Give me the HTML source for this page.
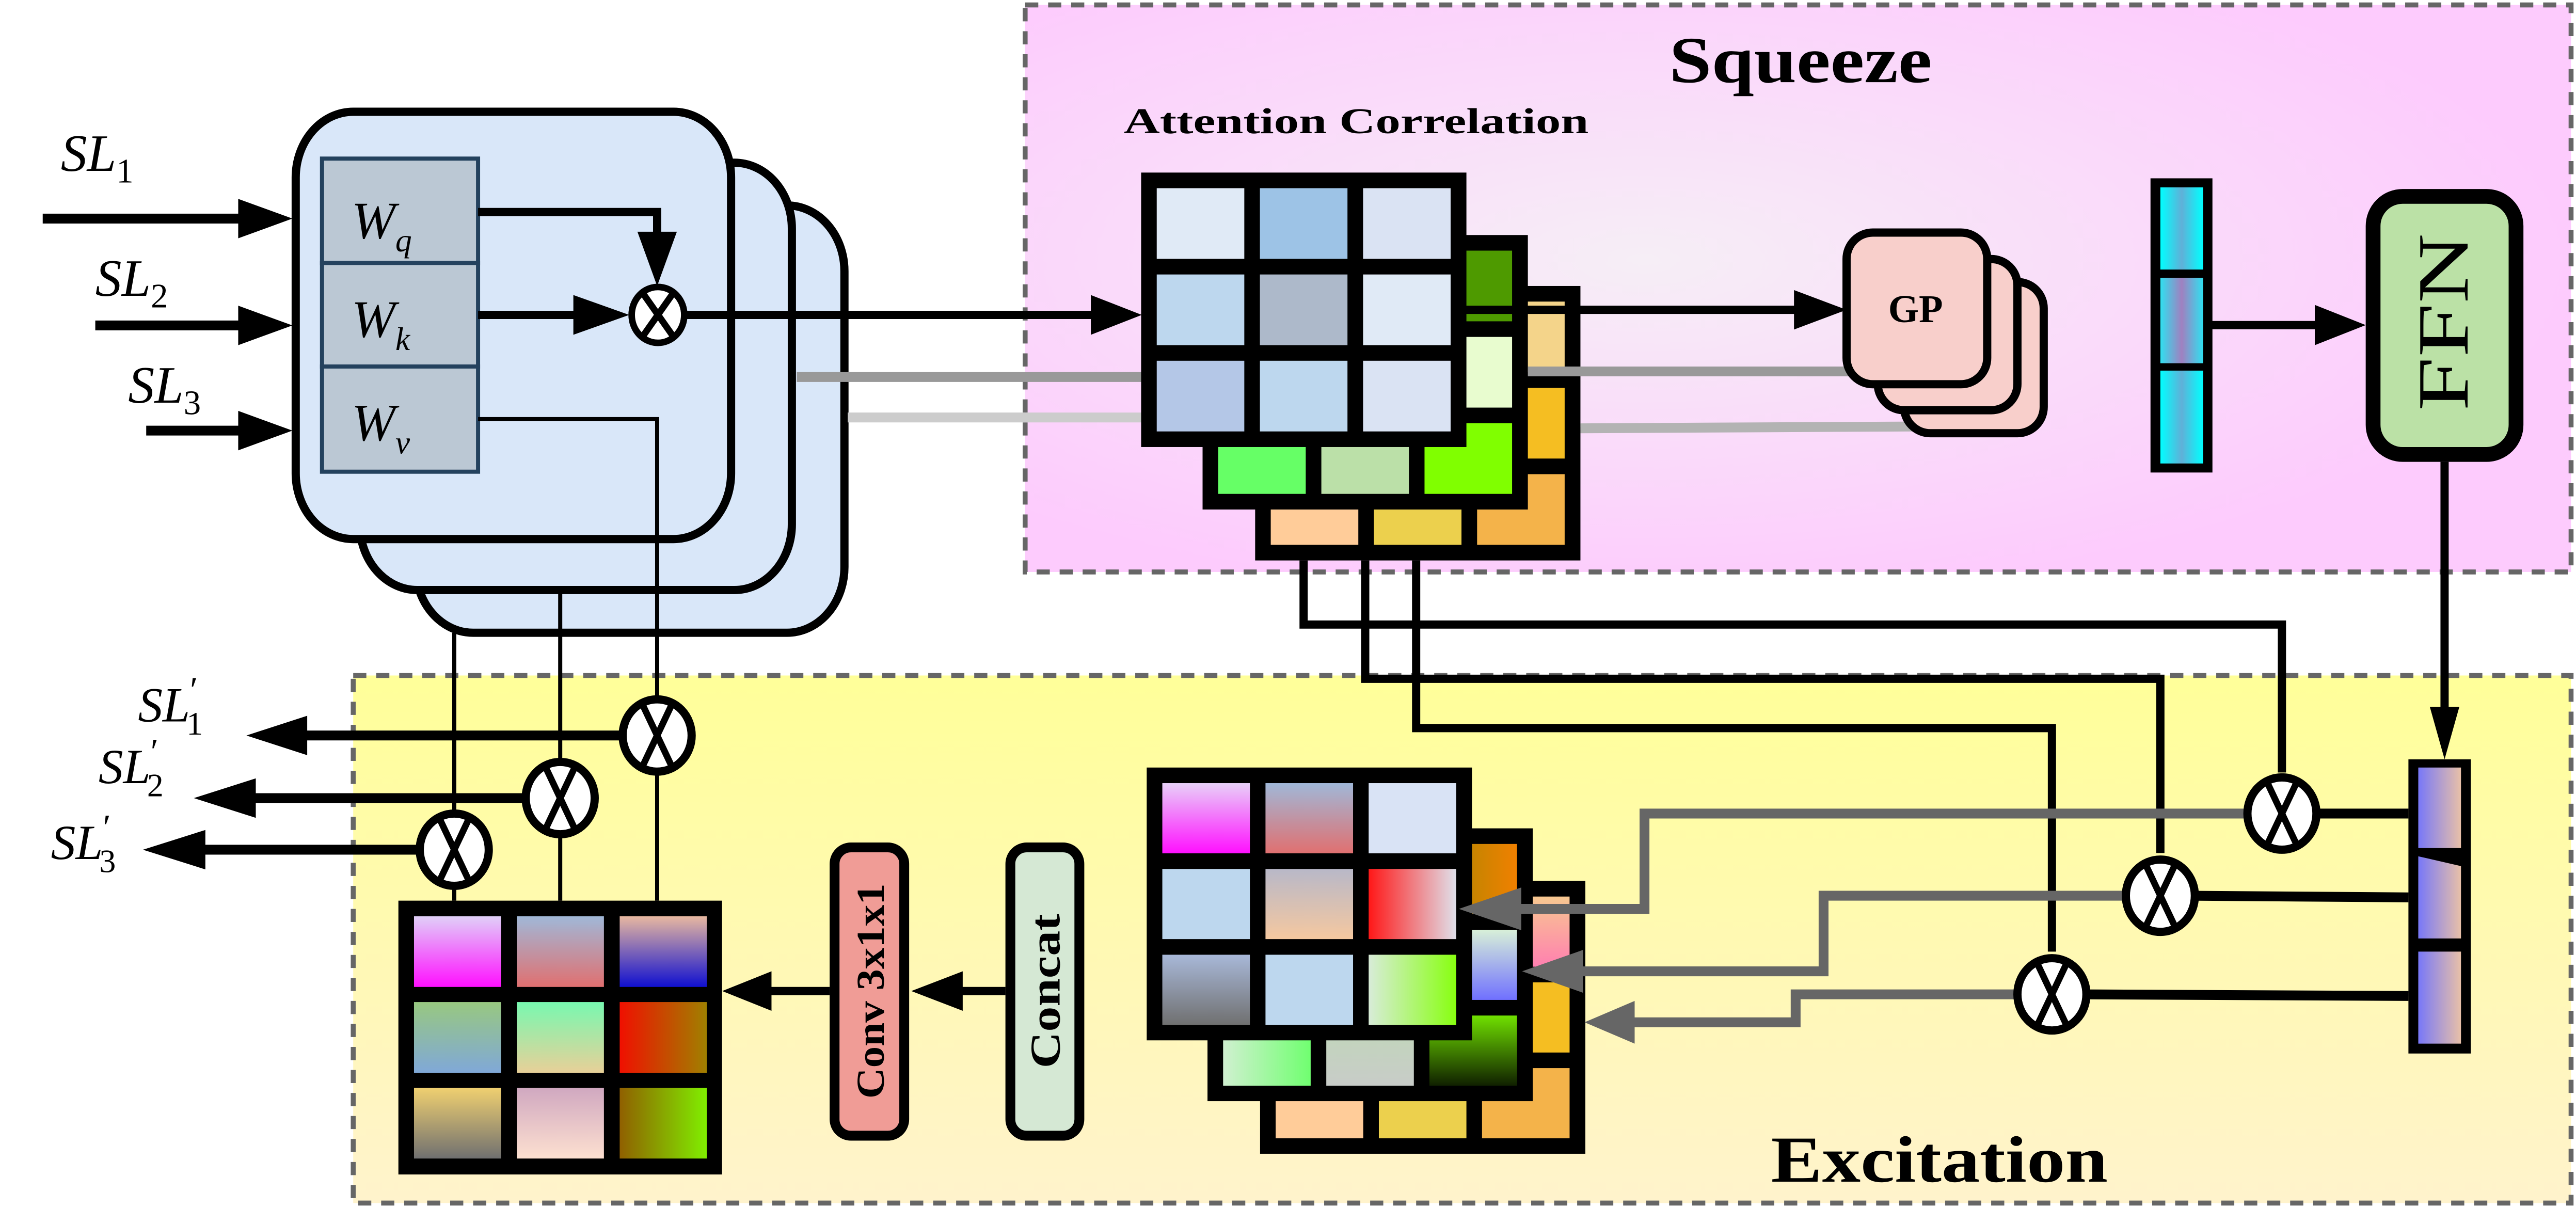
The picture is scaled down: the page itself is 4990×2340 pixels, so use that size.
<!DOCTYPE html>
<html><head><meta charset="utf-8"><style>html,body{margin:0;padding:0;background:#fff}svg{display:block}</style></head>
<body>
<svg xmlns="http://www.w3.org/2000/svg" width="4990" height="2340" viewBox="0 0 1568 735" preserveAspectRatio="none" font-family="'Liberation Serif', serif">
<defs>
<radialGradient id="sq" cx="0.4" cy="0.45" r="0.6"><stop offset="0" stop-color="#f6eef6"/><stop offset="1" stop-color="#fdcbfd"/></radialGradient>
<linearGradient id="ex" x1="0" y1="0" x2="0" y2="1"><stop offset="0" stop-color="#ffff99"/><stop offset="1" stop-color="#fff3cc"/></linearGradient>
<linearGradient id="e00" x1="0" y1="0" x2="0" y2="1"><stop offset="0" stop-color="#e8d0f8"/><stop offset="1" stop-color="#ff10ff"/></linearGradient>
<linearGradient id="e01" x1="0" y1="0" x2="0" y2="1"><stop offset="0" stop-color="#a0b8d8"/><stop offset="1" stop-color="#e07070"/></linearGradient>
<linearGradient id="e11" x1="0" y1="0" x2="0" y2="1"><stop offset="0" stop-color="#b8b8c8"/><stop offset="1" stop-color="#f5c8a0"/></linearGradient>
<linearGradient id="e12" x1="0" y1="0" x2="1" y2="0"><stop offset="0" stop-color="#ff1818"/><stop offset="1" stop-color="#e0e0ea"/></linearGradient>
<linearGradient id="e20" x1="0" y1="0" x2="0" y2="1"><stop offset="0" stop-color="#a8b8d8"/><stop offset="1" stop-color="#707070"/></linearGradient>
<linearGradient id="e22" x1="0" y1="0" x2="1" y2="0"><stop offset="0" stop-color="#d8ecd8"/><stop offset="1" stop-color="#88ff10"/></linearGradient>
<linearGradient id="f02" x1="0" y1="0" x2="1" y2="0"><stop offset="0" stop-color="#a08800"/><stop offset="1" stop-color="#f08000"/></linearGradient>
<linearGradient id="f12" x1="0" y1="0" x2="0" y2="1"><stop offset="0" stop-color="#d8f0d8"/><stop offset="1" stop-color="#7070ff"/></linearGradient>
<linearGradient id="f22" x1="0" y1="0" x2="0" y2="1"><stop offset="0" stop-color="#70e000"/><stop offset="1" stop-color="#102000"/></linearGradient>
<linearGradient id="f20" x1="0" y1="0" x2="1" y2="0"><stop offset="0" stop-color="#d0f0d0"/><stop offset="1" stop-color="#70ff70"/></linearGradient>
<linearGradient id="f21" x1="0" y1="0" x2="0" y2="1"><stop offset="0" stop-color="#c0d8b8"/><stop offset="1" stop-color="#c8ccc8"/></linearGradient>
<linearGradient id="g02" x1="0" y1="0" x2="0" y2="1"><stop offset="0" stop-color="#f8c890"/><stop offset="1" stop-color="#ff80b0"/></linearGradient>
<linearGradient id="o00" x1="0" y1="0" x2="0" y2="1"><stop offset="0" stop-color="#e0d0f8"/><stop offset="1" stop-color="#ff10ff"/></linearGradient>
<linearGradient id="o02" x1="0" y1="0" x2="0" y2="1"><stop offset="0" stop-color="#e8b8a0"/><stop offset="1" stop-color="#1010d0"/></linearGradient>
<linearGradient id="o10" x1="0" y1="0" x2="0" y2="1"><stop offset="0" stop-color="#98c880"/><stop offset="1" stop-color="#80a8d8"/></linearGradient>
<linearGradient id="o11" x1="0" y1="0" x2="0" y2="1"><stop offset="0" stop-color="#78f8b0"/><stop offset="1" stop-color="#e8d098"/></linearGradient>
<linearGradient id="o12" x1="0" y1="0" x2="1" y2="0"><stop offset="0" stop-color="#f01000"/><stop offset="1" stop-color="#a08000"/></linearGradient>
<linearGradient id="o20" x1="0" y1="0" x2="0" y2="1"><stop offset="0" stop-color="#f0d070"/><stop offset="1" stop-color="#707070"/></linearGradient>
<linearGradient id="o21" x1="0" y1="0" x2="0" y2="1"><stop offset="0" stop-color="#d0a8c0"/><stop offset="1" stop-color="#fde0d0"/></linearGradient>
<linearGradient id="o22" x1="0" y1="0" x2="1" y2="0"><stop offset="0" stop-color="#906000"/><stop offset="1" stop-color="#80ee00"/></linearGradient>
<linearGradient id="cy" x1="0" y1="0" x2="1" y2="0"><stop offset="0" stop-color="#00ffff"/><stop offset="0.5" stop-color="#60b0d8"/><stop offset="1" stop-color="#00ffff"/></linearGradient>
<linearGradient id="cy2" x1="0" y1="0" x2="1" y2="0"><stop offset="0" stop-color="#30e0f0"/><stop offset="0.5" stop-color="#a080c0"/><stop offset="1" stop-color="#30e0f0"/></linearGradient>
<linearGradient id="pu" x1="0" y1="0" x2="1" y2="0"><stop offset="0" stop-color="#7878f8"/><stop offset="1" stop-color="#e8c0a8"/></linearGradient>
</defs>

<rect x="624" y="3" width="941" height="345" fill="url(#sq)" stroke="#666" stroke-width="3" stroke-dasharray="8 6"/>
<rect x="215" y="411" width="1350" height="321" fill="url(#ex)" stroke="#666" stroke-width="3" stroke-dasharray="8 6"/>

<text x="1016" y="50" font-size="40" font-weight="bold" textLength="160" lengthAdjust="spacingAndGlyphs">Squeeze</text>
<text x="1078" y="719" font-size="40" font-weight="bold" textLength="205" lengthAdjust="spacingAndGlyphs">Excitation</text>
<text x="684" y="81" font-size="22" font-weight="bold" textLength="283" lengthAdjust="spacingAndGlyphs">Attention Correlation</text>

<rect x="253" y="125" width="261" height="260" rx="35" ry="40" fill="#d9e7f9" stroke="#000" stroke-width="5"/>
<rect x="219" y="99" width="263" height="260" rx="35" ry="40" fill="#d9e7f9" stroke="#000" stroke-width="5"/>
<rect x="180" y="68" width="265" height="260" rx="35" ry="40" fill="#d9e7f9" stroke="#000" stroke-width="5"/>
<rect x="196" y="96.5" width="95" height="63.5" fill="#bbc8d4" stroke="#24425e" stroke-width="2.5"/>
<rect x="196" y="160" width="95" height="63" fill="#bbc8d4" stroke="#24425e" stroke-width="2.5"/>
<rect x="196" y="223" width="95" height="64" fill="#bbc8d4" stroke="#24425e" stroke-width="2.5"/>
<g font-size="32" font-style="italic">
<text x="214" y="145">W<tspan font-size="20" dy="8">q</tspan></text>
<text x="214" y="205">W<tspan font-size="20" dy="8">k</tspan></text>
<text x="214" y="268">W<tspan font-size="20" dy="8">v</tspan></text>
</g>

<g stroke="#000" stroke-width="6">
<line x1="26" y1="133" x2="150" y2="133"/>
<line x1="58" y1="198" x2="150" y2="198"/>
<line x1="89" y1="262" x2="150" y2="262"/>
</g>
<polygon points="145,121 178,133 145,145"/>
<polygon points="145,186 178,198 145,210"/>
<polygon points="145,250 178,262 145,274"/>
<g font-size="32" font-style="italic">
<text x="37" y="104">SL<tspan font-size="21" font-style="normal" dy="7">1</tspan></text>
<text x="58" y="180">SL<tspan font-size="21" font-style="normal" dy="7">2</tspan></text>
<text x="78" y="245">SL<tspan font-size="21" font-style="normal" dy="7">3</tspan></text>
</g>

<polyline points="291,129 400,129 400,145" fill="none" stroke="#000" stroke-width="5"/>
<polygon points="388,141 412,141 400,174"/>
<line x1="291" y1="191.6" x2="355" y2="191.6" stroke="#000" stroke-width="5"/>
<polygon points="349,179.5 383,191.6 349,203.7"/>
<line x1="418" y1="191.6" x2="668" y2="191.6" stroke="#000" stroke-width="5"/>
<polygon points="664,179.5 695,191.6 664,203.7"/>
<g stroke="#000" stroke-width="4" fill="#fff">
<ellipse cx="400.5" cy="191.6" rx="16" ry="17"/>
<line x1="391" y1="178" x2="410" y2="205"/><line x1="410" y1="178" x2="391" y2="205"/>
</g>
<polyline points="291,255 400,255 400,548" fill="none" stroke="#000" stroke-width="2.5"/>
<line x1="341" y1="359" x2="341" y2="548" stroke="#000" stroke-width="2.5"/>
<line x1="276.5" y1="385" x2="276.5" y2="548" stroke="#000" stroke-width="2.5"/>

<line x1="485" y1="229.4" x2="700" y2="229.4" stroke="#999" stroke-width="6"/>
<line x1="516" y1="254" x2="700" y2="254" stroke="#cccccc" stroke-width="6"/>

<g>
<rect x="764" y="174" width="198" height="167"/>
<rect x="773.5" y="183.5" width="53.3" height="43" fill="#ffcc99"/><rect x="836.3" y="183.5" width="53.3" height="43" fill="#ecd04d"/><rect x="899.1" y="183.5" width="53.3" height="43" fill="#f4d48a"/>
<rect x="773.5" y="236" width="53.3" height="43" fill="#ffcc99"/><rect x="836.3" y="236" width="53.3" height="43" fill="#ecd04d"/><rect x="899.1" y="236" width="53.3" height="43" fill="#f5be22"/>
<rect x="773.5" y="288.5" width="53.3" height="43" fill="#ffcc99"/><rect x="836.3" y="288.5" width="53.3" height="43" fill="#ecd04d"/><rect x="899.1" y="288.5" width="53.3" height="43" fill="#f4b34a"/>
</g>
<g>
<rect x="732" y="143" width="198" height="167"/>
<rect x="741.5" y="152.5" width="53.3" height="43" fill="#66ff66"/><rect x="804.3" y="152.5" width="53.3" height="43" fill="#bbe0a8"/><rect x="867.1" y="152.5" width="53.3" height="43" fill="#4e9a00"/>
<rect x="741.5" y="205" width="53.3" height="43" fill="#66ff66"/><rect x="804.3" y="205" width="53.3" height="43" fill="#bbe0a8"/><rect x="867.1" y="205" width="53.3" height="43" fill="#e8fccf"/>
<rect x="741.5" y="257.5" width="53.3" height="43" fill="#66ff66"/><rect x="804.3" y="257.5" width="53.3" height="43" fill="#bbe0a8"/><rect x="867.1" y="257.5" width="53.3" height="43" fill="#80ff00"/>
</g>
<g>
<rect x="694.6" y="105" width="198" height="167"/>
<rect x="704.1" y="114.5" width="53.3" height="43" fill="#e0eaf6"/><rect x="766.9" y="114.5" width="53.3" height="43" fill="#9dc3e6"/><rect x="829.7" y="114.5" width="53.3" height="43" fill="#dae3f3"/>
<rect x="704.1" y="167" width="53.3" height="43" fill="#bdd7ee"/><rect x="766.9" y="167" width="53.3" height="43" fill="#adb9ca"/><rect x="829.7" y="167" width="53.3" height="43" fill="#e0eaf6"/>
<rect x="704.1" y="219.5" width="53.3" height="43" fill="#b4c7e7"/><rect x="766.9" y="219.5" width="53.3" height="43" fill="#bdd7ee"/><rect x="829.7" y="219.5" width="53.3" height="43" fill="#dae3f3"/>
</g>

<line x1="892" y1="188.5" x2="1095" y2="188.5" stroke="#000" stroke-width="5"/>
<polygon points="1092,176.5 1124,188.5 1092,200.5"/>
<line x1="930" y1="226" x2="1130" y2="226" stroke="#999" stroke-width="6"/>
<line x1="962" y1="260.6" x2="1165" y2="259.5" stroke="#b3b3b3" stroke-width="6"/>
<rect x="1159" y="171.6" width="85" height="92" rx="16" fill="#f8cfcb" stroke="#000" stroke-width="5"/>
<rect x="1143" y="157.6" width="85" height="92" rx="16" fill="#f8cfcb" stroke="#000" stroke-width="5"/>
<rect x="1124" y="141.5" width="85.6" height="92.3" rx="16" fill="#f8cfcb" stroke="#000" stroke-width="5"/>
<text x="1166" y="196" font-size="24" font-weight="bold" text-anchor="middle">GP</text>

<rect x="1309" y="108.5" width="37.7" height="179" fill="#000"/>
<rect x="1315" y="114" width="26" height="50" fill="url(#cy)"/>
<rect x="1315" y="169" width="26" height="52" fill="url(#cy2)"/>
<rect x="1315" y="225.5" width="26" height="56.5" fill="url(#cy)"/>
<line x1="1346" y1="197.8" x2="1412" y2="197.8" stroke="#000" stroke-width="5"/>
<polygon points="1409,185.5 1440,197.8 1409,210"/>

<rect x="1444.5" y="119.5" width="87" height="157" rx="18" fill="#bbe1a6" stroke="#000" stroke-width="9"/>
<text transform="translate(1502,196) rotate(-90)" font-size="44" text-anchor="middle" textLength="108" lengthAdjust="spacingAndGlyphs">FFN</text>
<line x1="1488" y1="281" x2="1488" y2="432" stroke="#000" stroke-width="5"/>
<polygon points="1479,430 1497,430 1488,462"/>

<rect x="1466" y="462" width="38" height="179" fill="#000"/>
<rect x="1472" y="467" width="26" height="49" fill="url(#pu)"/>
<polygon points="1472,521 1498,527 1498,571 1472,571" fill="url(#pu)"/>
<rect x="1472" y="579" width="26" height="56" fill="url(#pu)"/>

<g fill="none" stroke="#000" stroke-width="5">
<polyline points="793.5,341 793.5,380 1389,380 1389,470"/>
<polyline points="831,341 831,413 1315,413 1315,519"/>
<polyline points="862,341 862,443 1249,443 1249,579"/>
</g>

<g>
<rect x="767" y="536" width="198" height="166"/>
<rect x="776.5" y="545.5" width="53.3" height="42.7" fill="#ffcc99"/><rect x="839.3" y="545.5" width="53.3" height="42.7" fill="#ecd04d"/><rect x="902.1" y="545.5" width="53.3" height="42.7" fill="url(#g02)"/>
<rect x="776.5" y="597.7" width="53.3" height="42.7" fill="#ffcc99"/><rect x="839.3" y="597.7" width="53.3" height="42.7" fill="#ecd04d"/><rect x="902.1" y="597.7" width="53.3" height="42.7" fill="#f5be22"/>
<rect x="776.5" y="649.9" width="53.3" height="42.7" fill="#ffcc99"/><rect x="839.3" y="649.9" width="53.3" height="42.7" fill="#ecd04d"/><rect x="902.1" y="649.9" width="53.3" height="42.7" fill="#f4b34a"/>
</g>
<g>
<rect x="735" y="504" width="198" height="166"/>
<rect x="744.5" y="513.5" width="53.3" height="42.7" fill="url(#f20)"/><rect x="807.3" y="513.5" width="53.3" height="42.7" fill="url(#f21)"/><rect x="870.1" y="513.5" width="53.3" height="42.7" fill="url(#f02)"/>
<rect x="744.5" y="565.7" width="53.3" height="42.7" fill="url(#f20)"/><rect x="807.3" y="565.7" width="53.3" height="42.7" fill="url(#f21)"/><rect x="870.1" y="565.7" width="53.3" height="42.7" fill="url(#f12)"/>
<rect x="744.5" y="617.9" width="53.3" height="42.7" fill="url(#f20)"/><rect x="807.3" y="617.9" width="53.3" height="42.7" fill="url(#f21)"/><rect x="870.1" y="617.9" width="53.3" height="42.7" fill="url(#f22)"/>
</g>
<g>
<rect x="698" y="467" width="198" height="166"/>
<rect x="707.5" y="476.5" width="53.3" height="42.7" fill="url(#e00)"/><rect x="770.3" y="476.5" width="53.3" height="42.7" fill="url(#e01)"/><rect x="833.1" y="476.5" width="53.3" height="42.7" fill="#d9e3f5"/>
<rect x="707.5" y="528.7" width="53.3" height="42.7" fill="#bdd7ee"/><rect x="770.3" y="528.7" width="53.3" height="42.7" fill="url(#e11)"/><rect x="833.1" y="528.7" width="53.3" height="42.7" fill="url(#e12)"/>
<rect x="707.5" y="580.9" width="53.3" height="42.7" fill="url(#e20)"/><rect x="770.3" y="580.9" width="53.3" height="42.7" fill="#bdd7ee"/><rect x="833.1" y="580.9" width="53.3" height="42.7" fill="url(#e22)"/>
</g>

<g fill="none" stroke="#666" stroke-width="6">
<polyline points="1370,495 1001,495 1001,553 920,553"/>
<polyline points="1295,545 1110,545 1110,591 958,591"/>
<polyline points="1229,605 1093,605 1093,622 990,622"/>
</g>
<g fill="#666">
<polygon points="926,540 888,553 926,566"/>
<polygon points="963.5,578 926.5,591 963.5,604"/>
<polygon points="995,609 964.5,622 995,635"/>
</g>

<g stroke="#000" stroke-width="6">
<line x1="1405" y1="495" x2="1466" y2="495"/>
<line x1="1332" y1="545" x2="1466" y2="546"/>
<line x1="1266" y1="605" x2="1466" y2="606"/>
</g>
<g stroke="#000" stroke-width="5" fill="#fff">
<ellipse cx="1389" cy="495" rx="21" ry="22"/>
<ellipse cx="1315" cy="545" rx="21" ry="22"/>
<ellipse cx="1249" cy="605" rx="21" ry="22"/>
</g>
<g stroke="#000" stroke-width="4">
<line x1="1380" y1="476" x2="1398" y2="514"/><line x1="1398" y1="476" x2="1380" y2="514"/>
<line x1="1306" y1="526" x2="1324" y2="564"/><line x1="1324" y1="526" x2="1306" y2="564"/>
<line x1="1240" y1="586" x2="1258" y2="624"/><line x1="1258" y1="586" x2="1240" y2="624"/>
</g>

<g stroke="#000" stroke-width="6">
<line x1="380" y1="447.5" x2="180" y2="447.5"/>
<line x1="322" y1="485.6" x2="150" y2="485.6"/>
<line x1="257" y1="517" x2="120" y2="517"/>
</g>
<polygon points="187,435.5 150,447.5 187,459.5"/>
<polygon points="155.7,473.6 118,485.6 155.7,497.6"/>
<polygon points="125,505 87,517 125,529"/>
<g stroke="#000" stroke-width="5" fill="#fff">
<ellipse cx="400" cy="447.5" rx="21" ry="22"/>
<ellipse cx="341" cy="485.6" rx="21" ry="22"/>
<ellipse cx="276.5" cy="517" rx="21" ry="22"/>
</g>
<g stroke="#000" stroke-width="4">
<line x1="391" y1="428.5" x2="409" y2="466.5"/><line x1="409" y1="428.5" x2="391" y2="466.5"/>
<line x1="332" y1="466.6" x2="350" y2="504.6"/><line x1="350" y1="466.6" x2="332" y2="504.6"/>
<line x1="267.5" y1="498" x2="285.5" y2="536"/><line x1="285.5" y1="498" x2="267.5" y2="536"/>
</g>
<g font-size="30" font-style="italic">
<text x="84" y="439">SL<tspan font-size="22" font-style="normal" dx="0" dy="-12">′</tspan><tspan font-size="20" font-style="normal" dx="-7" dy="20">1</tspan></text>
<text x="60" y="476.5">SL<tspan font-size="22" font-style="normal" dx="0" dy="-12">′</tspan><tspan font-size="20" font-style="normal" dx="-7" dy="20">2</tspan></text>
<text x="31" y="522.7">SL<tspan font-size="22" font-style="normal" dx="0" dy="-12">′</tspan><tspan font-size="20" font-style="normal" dx="-7" dy="20">3</tspan></text>
</g>

<rect x="242.5" y="548" width="197" height="166.6"/>
<rect x="252" y="557.5" width="53" height="43" fill="url(#o00)"/><rect x="314.6" y="557.5" width="53" height="43" fill="url(#e01)"/><rect x="377.2" y="557.5" width="53" height="43" fill="url(#o02)"/>
<rect x="252" y="609.7" width="53" height="43" fill="url(#o10)"/><rect x="314.6" y="609.7" width="53" height="43" fill="url(#o11)"/><rect x="377.2" y="609.7" width="53" height="43" fill="url(#o12)"/>
<rect x="252" y="661.9" width="53" height="43" fill="url(#o20)"/><rect x="314.6" y="661.9" width="53" height="43" fill="url(#o21)"/><rect x="377.2" y="661.9" width="53" height="43" fill="url(#o22)"/>

<line x1="505" y1="603" x2="465" y2="603" stroke="#000" stroke-width="5"/>
<polygon points="469.6,591 439.6,603 469.6,615"/>
<line x1="612" y1="603" x2="582" y2="603" stroke="#000" stroke-width="5"/>
<polygon points="586,591 554.7,603 586,615"/>
<rect x="508" y="515.6" width="42.4" height="175.4" rx="10" fill="#f09c96" stroke="#000" stroke-width="6"/>
<rect x="615" y="515.6" width="42" height="175.4" rx="10" fill="#d5e8d4" stroke="#000" stroke-width="6"/>
<text transform="translate(538,603) rotate(-90)" font-size="24" font-weight="bold" text-anchor="middle" textLength="131" lengthAdjust="spacingAndGlyphs">Conv 3x1x1</text>
<text transform="translate(645,603) rotate(-90)" font-size="26" font-weight="bold" text-anchor="middle" textLength="94" lengthAdjust="spacingAndGlyphs">Concat</text>
</svg>
</body></html>
